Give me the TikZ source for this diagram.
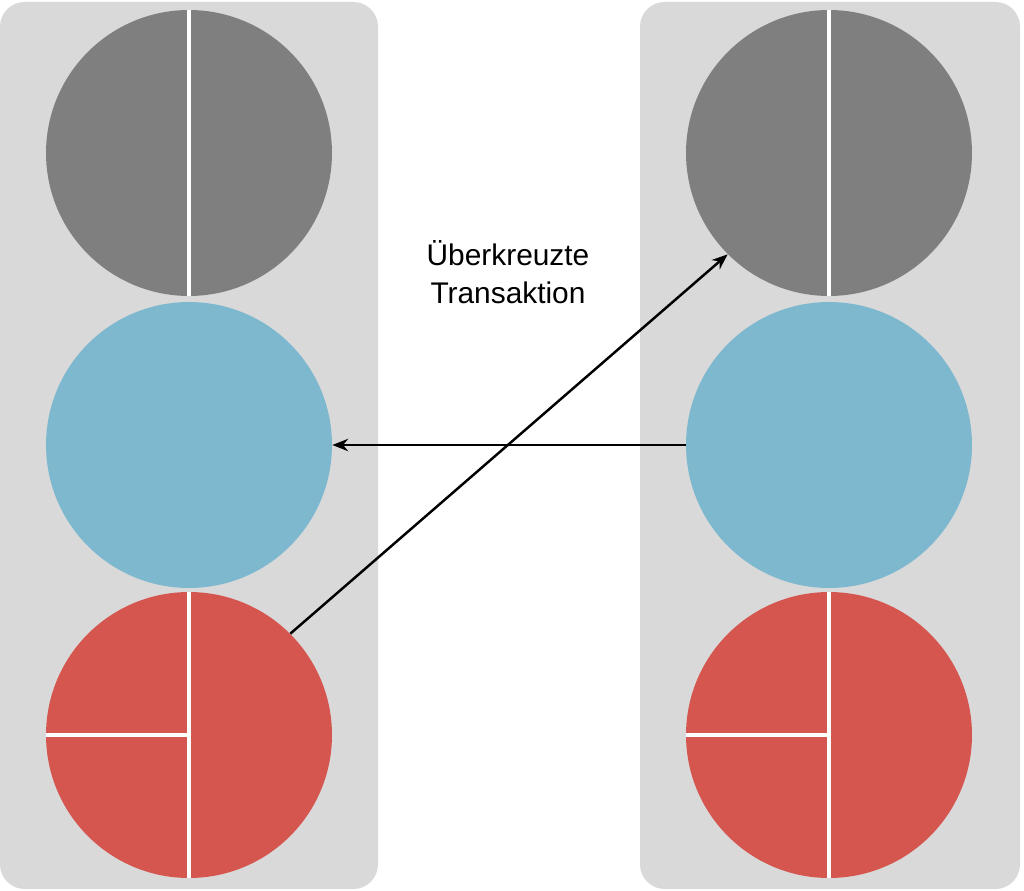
\documentclass[tikz,border=0pt]{standalone}
\usepackage{fontspec}
\setmainfont{Liberation Sans}
\usetikzlibrary{arrows.meta,positioning,calc}
\definecolor{panelgray}{HTML}{D9D9D9}
\definecolor{coingray}{HTML}{7F7F7F}
\definecolor{coinblue}{HTML}{7EB8CF}
\definecolor{coinred}{HTML}{D5554F}
\tikzset{
	panel/.style={fill=panelgray, draw=none, rounded corners=14pt},
	coin/.style={circle, minimum size=5.72cm, inner sep=0pt, draw=none},
	split/.style={white, line width=2pt},
	flow/.style={-{Stealth[length=9pt,width=7pt]}, line width=1.4pt}
}
\begin{document}
\begin{tikzpicture}[x=0.02cm,y=-0.02cm]
	\useasboundingbox (0,0) rectangle (1024,891);

	% Panels
	\fill[panel] (0,2) rectangle (378,889);
	\fill[panel] (640,2) rectangle (1020,889);

	% Left column
	\node[coin, fill=coingray] (grayL) at (189,153) {};
	\node[coin, fill=coinblue] (blueL) at (189,445) {};
	\node[coin, fill=coinred] (redL) at (189,735) {};
	\draw[split] (grayL.north) -- (grayL.south);
	\draw[split] (redL.north) -- (redL.south);
	\draw[split] (redL.west) -- (redL.center);

	% Right column
	\node[coin, fill=coingray] (grayR) at (829,153) {};
	\node[coin, fill=coinblue] (blueR) at (829,445) {};
	\node[coin, fill=coinred] (redR) at (829,735) {};
	\draw[split] (grayR.north) -- (grayR.south);
	\draw[split] (redR.north) -- (redR.south);
	\draw[split] (redR.west) -- (redR.center);

	% Transactions
	\draw[flow] (blueR.west) -- (blueL.east);
	\draw[flow] (redL.45) -- (grayR.225);

	\node[align=center, font=\fontsize{17}{22}\selectfont] (label) at (508,272) {Überkreuzte\\Transaktion};
\end{tikzpicture}
\end{document}
